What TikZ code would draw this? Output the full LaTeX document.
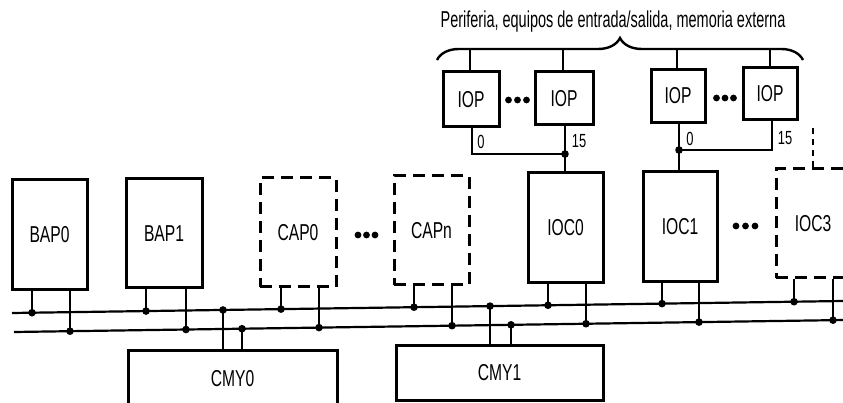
\documentclass[tikz,border=0pt]{standalone}
\usepackage{fontspec}
\newfontfamily\cond[FakeStretch=0.68]{Liberation Sans}
\newfontfamily\condh[FakeStretch=0.63]{Liberation Sans}
\usetikzlibrary{decorations.pathreplacing,calc}
\begin{document}
\begin{tikzpicture}[x=1pt,y=-1pt,
  box/.style={draw, line width=3pt, inner sep=0pt, font={\cond\fontsize{23}{23}\selectfont}},
  dbox/.style={box, dash pattern=on 12pt off 7pt},
  wire/.style={line width=2pt},
  bus/.style={line width=2.2pt},
  lbl/.style={inner sep=0pt, font={\cond\fontsize{19}{19}\selectfont}},
  dotsty/.style={fill=black}]
\useasboundingbox (0,0) rectangle (843,403);
\def\uy#1{313-0.01444*(#1-12)}
\def\ly#1{332-0.01444*(#1-14)}

% heading and brace
\node[inner sep=0pt, font={\condh\fontsize{23}{23}\selectfont}] (head) at (613,22) {Periferia, equipos de entrada/salida, memoria externa};
\coordinate (brL) at (437,60);
\coordinate (brR) at (803,60);
\draw[line width=2.4pt, decorate, decoration={brace, amplitude=22pt}] (brL) -- (brR);

% processor boxes
\node[box, minimum width=75, minimum height=110] (bap0) at (49.5,235) {BAP0};
\node[box, minimum width=76, minimum height=109] (bap1) at (164,233.5) {BAP1};
\node[dbox, minimum width=76, minimum height=109] (cap0) at (298,232.5) {CAP0};
\node[dbox, minimum width=75, minimum height=109] (capn) at (431.5,230.5) {CAPn};
\node[box, minimum width=75, minimum height=110] (ioc0) at (565.5,228) {IOC0};
\node[box, minimum width=74, minimum height=110] (ioc1) at (680,227) {IOC1};
\node[dbox, minimum width=74, minimum height=109] (ioc3) at (813,223.5) {IOC3};

% memory boxes
\node[box, minimum width=209, minimum height=64] (cmy0) at (232.5,382) {};
\node[font={\cond\fontsize{23}{23}\selectfont}, inner sep=0pt] (cmy0t) at (232.5,379) {CMY0};
\node[box, minimum width=207, minimum height=55] (cmy1) at (499.5,372.5) {CMY1};

% IOP boxes
\node[box, minimum width=56, minimum height=55] (iop1) at (471,99.5) {IOP};
\node[box, minimum width=58, minimum height=53] (iop2) at (564,98.5) {IOP};
\node[box, minimum width=54, minimum height=53] (iop3) at (678,96) {IOP};
\node[box, minimum width=54, minimum height=52] (iop4) at (770,94) {IOP};

% ellipsis dots
\foreach \x/\y in {358/235, 366.5/235, 375/235, 736/226, 745.5/226, 755/226,
                   508.5/100, 517.5/100, 526.5/100, 716.5/98, 725/98, 733.5/98}
  \fill[dotsty] (\x,\y) circle (3.4);

% buses
\coordinate (U0) at (12,{\uy{12}});
\coordinate (U1) at (843,{\uy{843}});
\coordinate (L0) at (14,{\ly{14}});
\coordinate (L1) at (843,{\ly{843}});
\draw[bus] (U0) -- (U1);
\draw[bus] (L0) -- (L1);

% taps from processor boxes
\foreach \n/\xu/\xl in {bap0/32/70, bap1/146/186, cap0/281/319, capn/414/452,
                        ioc0/548/586, ioc1/662/699, ioc3/794/833}{
  \coordinate (u\n) at (\xu,{\uy{\xu}});
  \coordinate (l\n) at (\xl,{\ly{\xl}});
  \draw[wire] (\n.south -| u\n) -- (u\n);
  \draw[wire] (\n.south -| l\n) -- (l\n);
  \fill (u\n) circle (3.8);
  \fill (l\n) circle (3.8);
}

% taps to memory boxes
\foreach \n/\xu/\xl in {cmy0/223/242, cmy1/490/511}{
  \coordinate (m\n u) at (\xu,{\uy{\xu}});
  \coordinate (m\n l) at (\xl,{\ly{\xl}});
  \draw[wire] (m\n u) -- (m\n u |- \n.north);
  \draw[wire] (m\n l) -- (m\n l |- \n.north);
  \fill (m\n u) circle (3.8);
  \fill (m\n l) circle (3.8);
}

% IOP top lines
\foreach \n/\x/\y in {iop1/470/50, iop2/563/50, iop3/677/48, iop4/770/48}{
  \coordinate (t\n) at (\x,\y);
  \draw[wire] (t\n) -- (t\n |- \n.north);
}

% IOP group 1 to IOC0
\coordinate (jA) at (565,154);
\coordinate (bA) at (472,154);
\draw[wire] (iop2.south -| jA) -- (jA) -- (jA |- ioc0.north);
\draw[wire] (jA) -- (bA) -- (bA |- iop1.south);
\fill (jA) circle (3.8);

% IOP group 2 to IOC1
\coordinate (jB) at (679,150);
\coordinate (bB) at (772,150);
\draw[wire] (iop3.south -| jB) -- (jB) -- (jB |- ioc1.north);
\draw[wire] (jB) -- (bB) -- (bB |- iop4.south);
\fill (jB) circle (3.8);

% dashed link to IOC3
\coordinate (dT) at (813,128);
\coordinate (dM) at (813,161);
\draw[wire, dash pattern=on 6pt off 5pt] (dT) -- (dM);
\draw[wire] (dM) -- (dM |- ioc3.north);

% port labels
\node[lbl] (n0a) at (481,142) {0};
\node[lbl] (n15a) at (579,141) {15};
\node[lbl] (n0b) at (690,139) {0};
\node[lbl] (n15b) at (785,138) {15};
\end{tikzpicture}
\end{document}
